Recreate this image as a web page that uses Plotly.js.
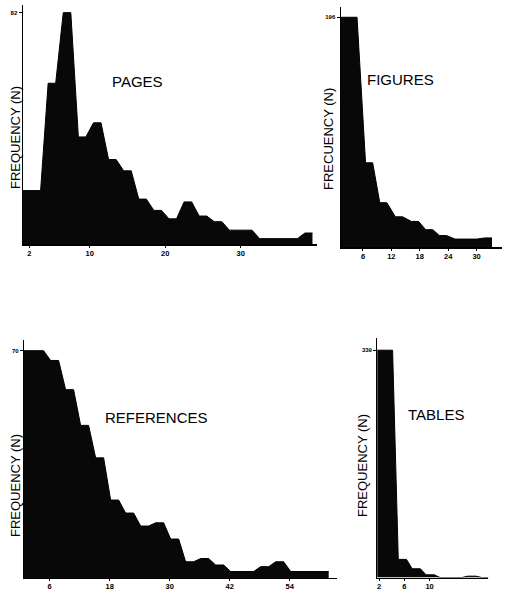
<!DOCTYPE html>
<html>
<head>
<meta charset="utf-8">
<script src="https://cdn.plot.ly/plotly-3.0.1.min.js"></script>
<style>
  html, body { margin: 0; padding: 0; background: #fff; }
  #chart { width: 509px; height: 592px; }
</style>
</head>
<body>
<div id="chart"></div>
<script>
// ---- data (bin midpoints and frequencies) ----
const pagesBins = [1, 3, 5, 7, 9, 11, 13, 15, 17, 19, 21, 23, 25, 27, 29, 31, 33, 35, 37, 39];
const pagesFreq = [19, 19, 57, 82, 38, 43, 30, 26, 16, 12, 9, 15, 10, 8, 5, 5, 2, 2, 2, 4];

const figuresBins = [1, 4, 7.3, 10.3, 13.6, 17, 20, 22.9, 26.2, 29.3, 32.5];
const figuresFreq = [196, 196, 72, 38, 26, 22, 15, 10, 7, 7, 8];

const refsBins = [1, 4, 7, 10, 13, 16, 19, 22, 25, 28, 31, 34, 37, 40, 43, 46, 49, 52, 55, 58, 61];
const refsFreq = [70, 70, 67, 58, 47, 37, 24, 20, 16, 17, 12, 5, 6, 4, 2, 2, 3.5, 5, 2, 2, 2];

const tablesBins = [1.5, 3.5, 5.7, 7.9, 10.1, 12.3, 14.5, 16.7, 18.9];
const tablesFreq = [339, 339, 27, 13, 4, 0, 0, 2, 0];

const pagesXTicks = [2, 10, 20, 30];
const figuresXTicks = [6, 12, 18, 24, 30];
const refsXTicks = [6, 18, 30, 42, 54];
const tablesXTicks = [2, 6, 10];

const yLabel = "FREQUENCY (N)";
const yLabelFig = "FRECUENCY (N)";
const panelNames = ["PAGES", "FIGURES", "REFERENCES", "TABLES"];

// ---- frequency polygon with flat tops ----
function polygon(bins, freq, hw, xa, ya) {
  const x = [], y = [];
  bins.forEach((b, i) => { x.push(b - hw, b + hw); y.push(freq[i], freq[i]); });
  return {
    type: 'scatter', mode: 'lines', x, y, xaxis: xa, yaxis: ya,
    fill: 'tozeroy', fillcolor: '#080808',
    line: { color: '#000', width: 1, shape: 'linear' },
    hoverinfo: 'skip', showlegend: false
  };
}

const traces = [
  polygon(pagesBins, pagesFreq, 0.5, 'x', 'y'),
  polygon(figuresBins, figuresFreq, 0.75, 'x2', 'y2'),
  polygon(refsBins, refsFreq, 0.8, 'x3', 'y3'),
  polygon(tablesBins, tablesFreq, 0.65, 'x4', 'y4')
];

const tickFont = { family: 'Liberation Sans, Arial, sans-serif', size: 7.5, color: '#000', weight: 'bold' };
const yTickFont = { family: 'Liberation Sans, Arial, sans-serif', size: 6, color: '#000', weight: 'bold' };

function xax(domain, range, ticks, anchor) {
  return {
    domain, range, anchor, tickvals: ticks, ticktext: ticks.map(String),
    showline: true, linecolor: '#000', linewidth: 1.2,
    ticks: 'outside', ticklen: 2, tickcolor: '#000', tickwidth: 1,
    ticklabelstandoff: -1,
    showgrid: false, zeroline: false, tickfont: tickFont, fixedrange: true
  };
}
function yax(domain, range, top, anchor) {
  return {
    domain, range, anchor, tickvals: [top], ticktext: [String(top)],
    showline: true, linecolor: '#000', linewidth: 1.2,
    ticks: 'outside', ticklen: 3, tickcolor: '#000', tickwidth: 1,
    showgrid: false, zeroline: false, tickfont: yTickFont, fixedrange: true
  };
}

const W = 509, H = 592;
const px = v => v / W, py = v => 1 - v / H;

const layout = {
  width: W, height: H,
  margin: { l: 0, r: 0, t: 0, b: 0 },
  paper_bgcolor: '#fff', plot_bgcolor: 'rgba(0,0,0,0)',
  xaxis:  xax([px(22.7), px(317)],  [1.13, 40.1], pagesXTicks, 'y'),
  yaxis:  yax([py(244.3), py(5)],   [0, 84.7], Math.max(...pagesFreq), 'x'),
  xaxis2: xax([px(340.7), px(501.7)], [1.3, 35.3], figuresXTicks, 'y2'),
  yaxis2: yax([py(247.3), py(7.3)], [0, 204.5], Math.max(...figuresFreq), 'x2'),
  xaxis3: xax([px(24), px(336.7)],  [0.88, 63.4], refsXTicks, 'y3'),
  yaxis3: yax([py(578), py(340)],   [0, 73.3], Math.max(...refsFreq), 'x3'),
  xaxis4: xax([px(377.3), px(488.3)], [1.73, 19.3], tablesXTicks, 'y4'),
  yaxis4: yax([py(577.5), py(338)], [0, 357.2], Math.max(...tablesFreq), 'x4'),
  annotations: [
    { text: panelNames[0], x: px(137), y: py(81) },
    { text: panelNames[1], x: px(400), y: py(80) },
    { text: panelNames[2], x: px(156), y: py(417) },
    { text: panelNames[3], x: px(436), y: py(414) }
  ].map(a => Object.assign(a, {
    xref: 'paper', yref: 'paper', showarrow: false, xanchor: 'center', yanchor: 'middle',
    font: { family: 'Liberation Sans, Arial, sans-serif', size: 15, color: '#000' }
  })).concat([
    { text: yLabel, x: px(15), y: py(138) },
    { text: yLabelFig, x: px(329), y: py(139) },
    { text: yLabel, x: px(15), y: py(486) },
    { text: yLabel, x: px(362), y: py(466) }
  ].map(a => Object.assign(a, {
    xref: 'paper', yref: 'paper', showarrow: false, xanchor: 'center', yanchor: 'middle',
    textangle: -90,
    font: { family: 'Liberation Sans, Arial, sans-serif', size: 13, color: '#000' }
  })))
};

Plotly.newPlot('chart', traces, layout, { staticPlot: true, displayModeBar: false });
</script>
</body>
</html>
